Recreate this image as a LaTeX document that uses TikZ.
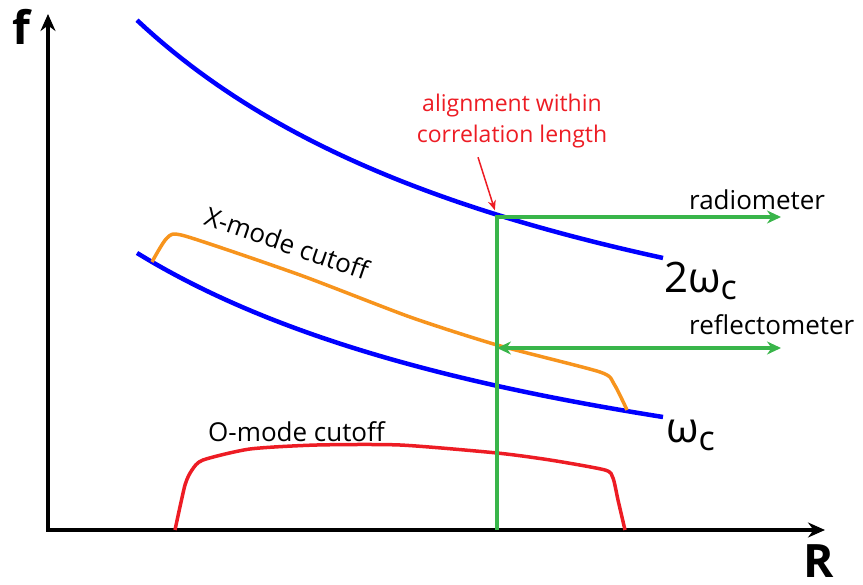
\documentclass[tikz,border=0pt]{standalone}
\usepackage{fontspec}
\setmainfont{Open Sans}
\usetikzlibrary{arrows.meta,positioning}
\definecolor{cyc}{RGB}{0,0,255}
\definecolor{meas}{RGB}{57,181,74}
\definecolor{xcut}{RGB}{247,148,29}
\definecolor{ocut}{RGB}{237,28,36}

\begin{document}
\begin{tikzpicture}[x=1pt,y=-1pt,>=Stealth,
  axis/.style={line width=4pt,line cap=rect,-{Stealth[length=17pt,width=15pt]}},
  res/.style={cyc,line width=4.5pt},
  cut/.style={line width=3.5pt,line join=round},
  beam/.style={meas,line width=4pt,-{Stealth[length=14pt,width=13pt]}},
  lab/.style={font=\fontsize{26}{28}\selectfont,inner sep=0pt},
  big/.style={font=\fontsize{46}{46}\selectfont\bfseries,inner sep=0pt}]
\useasboundingbox (0,0) rectangle (863,585);
% axes
\coordinate (o) at (48,530);
\coordinate (ftop) at (48,14);
\coordinate (rend) at (825,530);
\draw[axis] (o) -- (ftop);
\draw[axis] (o) -- (rend);
\node[big] (flab) at (21,27) {f};
\node[big] (rlab) at (819,561) {R};
% cyclotron harmonics
\draw[res] plot[domain=137:663,samples=60] (\x,{479.5-2250.68/((\x+353)/100)});
\draw[res] plot[domain=137:663,samples=60] (\x,{586.6-1814.8/((\x+407)/100)});
\node[inner sep=0pt,anchor=base west] (twowc) at (664,293) {\fontsize{42}{42}\selectfont 2ω\raisebox{-7pt}{\fontsize{34}{34}\selectfont c}};
\node[inner sep=0pt,anchor=base west] (wc) at (666,443) {\fontsize{42}{42}\selectfont ω\raisebox{-7pt}{\fontsize{34}{34}\selectfont c}};
% cutoffs
\draw[cut,xcut] plot[smooth,tension=0.4] coordinates {(152,262) (167,238) (185,236) (300,275) (410,317) (497,345) (600,372) (614,384) (627,410)};
\draw[cut,ocut] plot[smooth,tension=0.4] coordinates {(175,530) (185,485) (192,470) (203,460) (250,449) (317,445) (400,445) (497,453) (550,460) (605,470) (613,478) (618,500) (625,530)};
\node[lab,rotate=-19] (xlab) at (287,243) {X-mode cutoff};
\node[lab,anchor=base west] (olab) at (208,442) {O-mode cutoff};
% measurement lines
\coordinate (base) at (497,530);
\coordinate (hit) at (497,217);
\coordinate (xhit) at (497,348);
\coordinate (radend) at (781,217);
\coordinate (refend) at (781,348);
\draw[beam,line join=miter] (base) -- (hit) -- (radend);
\draw[beam,{Stealth[length=14pt,width=13pt]}-{Stealth[length=14pt,width=13pt]}] (xhit) -- (refend);
\node[lab,anchor=base west] (radio) at (689,210) {radiometer};
\node[lab,anchor=base west] (refl) at (689,335) {reflectometer};
% annotation
\node[ocut,inner sep=0pt,align=center,font=\fontsize{23}{31}\selectfont] (note) at (512,121) {alignment within\\correlation length};
\draw[ocut,line width=1.5pt,-{Stealth[length=10pt,width=8pt]},shorten >=7pt] ([xshift=-34pt,yshift=-9pt]note.south) -- (hit);
\end{tikzpicture}
\end{document}
